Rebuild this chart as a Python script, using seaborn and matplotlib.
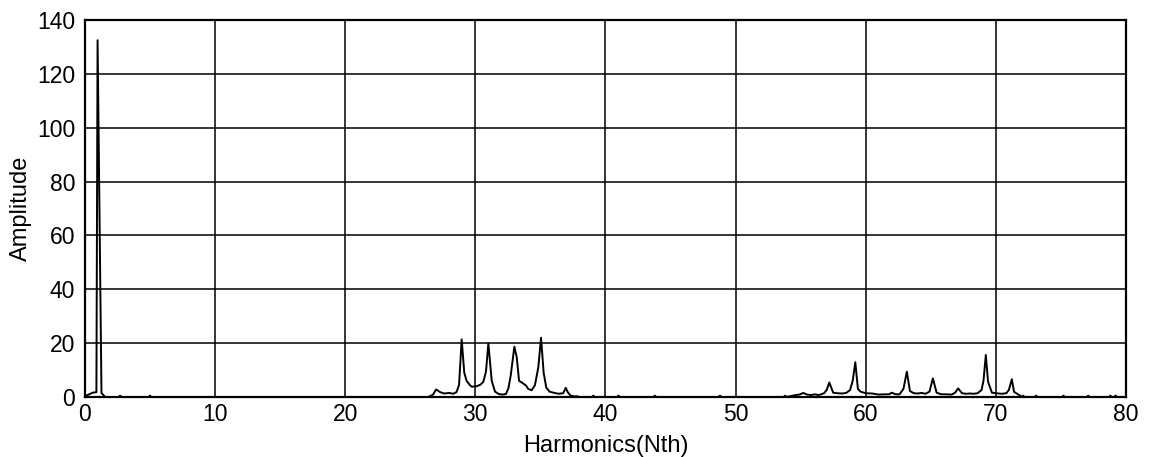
import matplotlib
matplotlib.use("Agg")
import matplotlib.pyplot as plt
import numpy as np
import pandas as pd
import seaborn as sns

# Harmonic spectrum, listed as the vertices of the traced line
harmonic = [
    0.0, 0.6, 0.88, 0.97, 1.27, 1.55,
    2.6, 2.7, 2.8, 4.9, 5.0, 5.1,
    26.4, 26.75, 26.98, 27.3, 27.6, 28.0, 28.3, 28.55, 28.75, 28.95, 29.15, 29.33,
    29.55, 29.72, 30.1, 30.4, 30.62, 30.82, 31.0, 31.26, 31.51, 31.8, 32.1, 32.35,
    32.54, 32.72, 33.0, 33.18, 33.36, 33.69, 33.9, 34.07, 34.33, 34.58, 34.84,
    35.05, 35.25, 35.45, 35.7, 36.0, 36.4, 36.75, 36.95, 37.1, 37.3, 37.6, 37.8, 38.0,
    38.97, 39.07, 39.17, 40.9, 41.0, 41.1, 43.7, 43.8, 43.9, 48.7, 48.8, 48.9,
    53.7, 53.8, 53.9,
    54.6, 54.9, 55.2, 55.5, 55.8, 56.1, 56.4, 56.8, 57.0, 57.2, 57.5, 57.8, 58.2,
    58.5, 58.8, 59.0, 59.2, 59.4, 59.6, 60.0, 60.5, 61.0, 61.5, 61.8, 62.0, 62.3,
    62.6, 62.9, 63.16, 63.4, 63.7, 64.0, 64.3, 64.6, 64.9, 65.16, 65.45, 65.8,
    66.2, 66.6, 66.87, 67.1, 67.4, 67.7, 68.0, 68.3, 68.6, 68.9, 69.05, 69.23,
    69.4, 69.7, 70.0, 70.46, 70.8, 71.0, 71.23, 71.4, 71.7, 72.0,
    72.1, 72.2, 73.0, 73.1, 73.2, 75.1, 75.2, 75.3, 77.0, 77.1, 77.2,
    78.7, 78.8, 78.9, 79.1, 79.2, 79.3, 80.0,
]
amplitude = [
    0.3, 1.6, 1.8, 132.5, 1.5, 0.0,
    0.0, 0.5, 0.0, 0.0, 0.5, 0.0,
    0.0, 0.9, 2.8, 1.8, 1.3, 1.5, 1.2, 1.8, 4.5, 21.4, 9.0, 6.0,
    4.6, 3.8, 4.0, 4.6, 5.7, 9.5, 19.9, 6.0, 2.0, 1.1, 0.9, 1.1,
    3.2, 8.0, 18.7, 14.8, 6.0, 5.0, 4.2, 3.0, 2.5, 4.4, 11.0,
    22.0, 9.0, 3.5, 2.0, 1.6, 1.2, 1.4, 3.4, 1.8, 0.6, 0.2, 0.3, 0.0,
    0.0, 0.5, 0.0, 0.0, 0.5, 0.0, 0.0, 0.5, 0.0, 0.0, 0.5, 0.0,
    0.0, 0.5, 0.0,
    0.7, 0.9, 1.5, 0.9, 0.7, 1.0, 0.7, 1.4, 2.6, 5.4, 1.6, 1.4, 1.3,
    1.5, 2.6, 6.0, 12.9, 3.0, 2.0, 1.4, 1.3, 0.9, 1.0, 1.0, 1.6, 1.0,
    1.0, 3.0, 9.4, 2.2, 1.4, 1.3, 1.5, 1.2, 2.0, 6.9, 1.6, 1.0,
    1.0, 0.9, 1.6, 3.2, 1.4, 1.2, 1.3, 1.2, 1.4, 2.6, 6.0, 15.6,
    5.7, 1.6, 1.4, 1.2, 1.4, 2.6, 6.6, 1.9, 1.0, 0.1,
    0.5, 0.0, 0.0, 0.5, 0.0, 0.0, 0.5, 0.0, 0.0, 0.5, 0.0,
    0.0, 0.5, 0.0, 0.0, 0.5, 0.0, 0.0,
]

x_ticks = list(range(0, 81, 10))
y_ticks = list(range(0, 141, 20))

spectrum = pd.DataFrame({"Harmonic": harmonic, "Amplitude": amplitude})

sns.set_style("white")
plt.rcParams["font.family"] = ["Liberation Sans", "DejaVu Sans"]

fig = plt.figure(figsize=(11.59, 4.57), dpi=100)
ax = fig.add_axes([0.0733, 0.1313, 0.8982, 0.8249])

sns.lineplot(data=spectrum, x="Harmonic", y="Amplitude", sort=False,
             estimator=None, color="black", linewidth=1.4, ax=ax)

ax.set_xlim(0, 80)
ax.set_ylim(0, 140)
ax.set_xticks(x_ticks)
ax.set_yticks(y_ticks)
ax.grid(True, color="black", linewidth=1.1, linestyle="-")
ax.set_axisbelow(True)

for side in ["left", "right", "top", "bottom"]:
    ax.spines[side].set_visible(True)
    ax.spines[side].set_color("black")
    ax.spines[side].set_linewidth(1.6)

ax.tick_params(axis="both", direction="in", length=4, width=1, colors="black",
               labelsize=16.5)
ax.tick_params(axis="x", pad=4)
ax.tick_params(axis="y", pad=7)

ax.set_xlabel("Harmonics(Nth)", fontsize=17, color="black")
ax.set_ylabel("Amplitude", fontsize=17, color="black")
ax.xaxis.set_label_coords(0.5, -0.1)
ax.yaxis.set_label_coords(-0.051, 0.5)

fig.savefig("out.png", dpi=100, facecolor="white")
